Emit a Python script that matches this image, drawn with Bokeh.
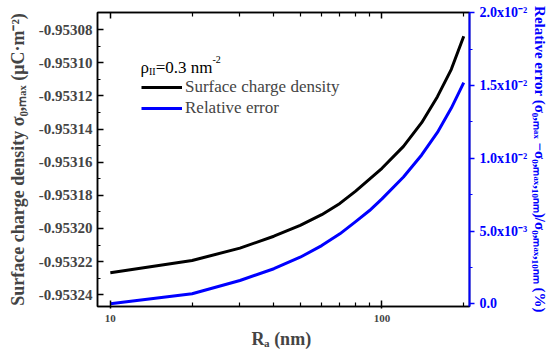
from bokeh.plotting import figure
from bokeh.models import (Range1d, LinearAxis, LogAxis, FixedTicker, PrintfTickFormatter,
                          Label, Legend, LegendItem)
from bokeh.embed import file_html
from bokeh.resources import INLINE

# ---------------- data ----------------
R_nm = [10, 20, 30, 40, 50, 60, 70, 80, 90, 100, 120, 140, 160, 180, 200]
sigma = [-0.9532267, -0.9532193, -0.9532119, -0.9532047, -0.9531982, -0.9531917,
         -0.9531849, -0.9531775, -0.9531703, -0.9531637, -0.9531505, -0.9531362,
         -0.9531205, -0.9531040, -0.9530840]
rel_err = [0.0, 6.9e-4, 1.6e-3, 2.41e-3, 3.2e-3, 4.0e-3, 4.81e-3, 5.65e-3, 6.41e-3,
           7.21e-3, 8.71e-3, 1.023e-2, 1.178e-2, 1.345e-2, 1.52e-2]

left_ticks = [-0.95324, -0.95322, -0.95320, -0.95318, -0.95316, -0.95314, -0.95312, -0.95310, -0.95308]
left_minor = [-0.95323, -0.95321, -0.95319, -0.95317, -0.95315, -0.95313, -0.95311, -0.95309]
right_ticks = [0.0, 0.005, 0.01, 0.015, 0.02]
right_minor = [0.0025, 0.0075, 0.0125, 0.0175]
right_tick_labels = ["0.0", "5.0x10\u207b\u00b3", "1.0x10\u207b\u00b2", "1.5x10\u207b\u00b2", "2.0x10\u207b\u00b2"]
x_ticks = [10, 100]
x_minor = [20, 30, 40, 50, 60, 70, 80, 90, 200]

x_title = "R\u2090  (nm)"
left_title = "Surface charge density \u03c3\u2080,\u2098\u2090\u2093 (\u03bcC\u00b7m\u207b\u00b2)"
right_title = ("Relative error (\u03c3\u2080,\u2098\u2090\u2093 \u2212\u03c3\u2080,\u2098\u2090\u2093,\u2081\u2080\u2099\u2098)"
               "/\u03c3\u2080,\u2098\u2090\u2093,\u2081\u2080\u2099\u2098 (%)")
series_names = ["Surface charge density", "Relative error"]

# ---------------- layout ----------------
W, H = 551, 354
FL, FR, FT, FB = 97, 472, 12, 306   # frame edges in canvas pixels
BLUE = "#0000ff"
SERIF = "Liberation Serif"

TR = {' ': 250, '=': 564, '.': 250, 'm': 778, 'n': 500, 'I': 333, '-': 333, '\u03c1': 500}


def tw(text, size, table):
    return sum(table.get(c, 500) for c in text) / 1000.0 * size


p = figure(width=W, height=H, x_axis_type="log",
           x_range=Range1d(8.97, 210), y_range=Range1d(-0.9532471, -0.9530697),
           output_backend="svg", toolbar_location=None,
           min_border_left=FL, min_border_right=W - FR, min_border_top=FT,
           min_border_bottom=H - FB)
p.extra_y_ranges = {"err": Range1d(-0.000186, 0.020021)}
p.grid.visible = False
p.outline_line_color = "black"
p.outline_line_width = 1.5
p.background_fill_color = "white"
p.border_fill_color = "white"

# bottom axis
xa = p.xaxis[0]
xa.ticker = FixedTicker(ticks=x_ticks, minor_ticks=x_minor)
xa.formatter = PrintfTickFormatter(format="%d")
xa.major_tick_in, xa.major_tick_out = 6, 2
xa.minor_tick_in, xa.minor_tick_out = 4, 0
xa.axis_line_width = 1.5
xa.major_tick_line_width = 1.5
xa.minor_tick_line_width = 1.2
xa.major_label_text_font = SERIF
xa.major_label_text_font_style = "bold"
xa.major_label_text_font_size = "11px"
xa.major_label_standoff = 6
xa.axis_label = x_title
xa.axis_label_text_font = SERIF
xa.axis_label_text_font_style = "bold"
xa.axis_label_text_font_size = "18px"
xa.axis_label_standoff = 4

# top axis (ticks only, invisible labels)
ta = LogAxis(ticker=FixedTicker(ticks=x_ticks, minor_ticks=x_minor),
             formatter=PrintfTickFormatter(format="%d"),
             major_label_text_font_size="2px", major_label_text_alpha=0,
             major_label_standoff=0,
             major_tick_in=6, major_tick_out=0, minor_tick_in=4, minor_tick_out=0,
             axis_line_width=1.5, major_tick_line_width=1.5, minor_tick_line_width=1.2)
p.add_layout(ta, "above")

# left axis
ya = p.yaxis[0]
ya.ticker = FixedTicker(ticks=left_ticks, minor_ticks=left_minor)
ya.formatter = PrintfTickFormatter(format="%.5f")
ya.major_tick_in, ya.major_tick_out = 6, 0
ya.minor_tick_in, ya.minor_tick_out = 3, 0
ya.axis_line_width = 1.5
ya.major_tick_line_width = 1.5
ya.minor_tick_line_width = 1.2
ya.major_label_text_font = SERIF
ya.major_label_text_font_style = "bold"
ya.major_label_text_font_size = "15px"
ya.major_label_standoff = 5
ya.axis_label = left_title
ya.axis_label_text_font = SERIF
ya.axis_label_text_font_style = "bold"
ya.axis_label_text_font_size = "18px"
ya.axis_label_standoff = 8

# right axis
ra = LinearAxis(y_range_name="err",
                ticker=FixedTicker(ticks=right_ticks, minor_ticks=right_minor),
                major_label_overrides=dict(zip(right_ticks, right_tick_labels)),
                axis_line_color=BLUE, axis_line_width=2,
                major_tick_line_color=BLUE, minor_tick_line_color=BLUE,
                major_tick_line_width=1.5, minor_tick_line_width=1.2,
                major_tick_in=0, major_tick_out=5, minor_tick_in=0, minor_tick_out=3,
                major_label_text_color=BLUE, major_label_text_font=SERIF,
                major_label_text_font_style="bold", major_label_text_font_size="14px",
                major_label_standoff=5,
                axis_label=right_title, axis_label_text_color=BLUE,
                axis_label_text_font=SERIF, axis_label_text_font_style="bold",
                axis_label_text_font_size="15px", axis_label_standoff=2)
p.add_layout(ra, "right")

# data lines
r1 = p.line(R_nm, sigma, line_color="black", line_width=3, line_join="round")
r2 = p.line(R_nm, rel_err, y_range_name="err", line_color=BLUE, line_width=3,
            line_join="round")

# legend
leg = Legend(items=[LegendItem(label=series_names[0], renderers=[r1]),
                    LegendItem(label=series_names[1], renderers=[r2])],
             location=(141 - FL, FB - 118),
             label_text_font=SERIF, label_text_font_size="17px",
             glyph_width=41, glyph_height=20, label_height=20, label_standoff=3,
             spacing=1, padding=0, margin=0,
             border_line_alpha=0, background_fill_alpha=0)
p.add_layout(leg)


def lab(text, cx, cy, size, color="black", bold=False):
    p.add_layout(Label(x=cx - FL, y=FB - cy, x_units="screen", y_units="screen",
                       text=text, text_color=color, text_font=SERIF,
                       text_font_size=f"{size}px",
                       text_font_style="bold" if bold else "normal",
                       text_align="left", text_baseline="alphabetic"))


# legend heading  rho_II = 0.3 nm^-2
hx, hy = 140, 67
lab("\u03c1", hx, hy, 17)
hx += tw("\u03c1", 17, TR)
lab("II", hx, hy + 4, 10)
hx += tw("II", 10, TR)
lab("=0.3 nm", hx, hy, 17)
hx += tw("=0.3 nm", 17, TR)
lab("-2", hx, hy - 8, 10)

open("out.html", "w").write(file_html(p, INLINE))
